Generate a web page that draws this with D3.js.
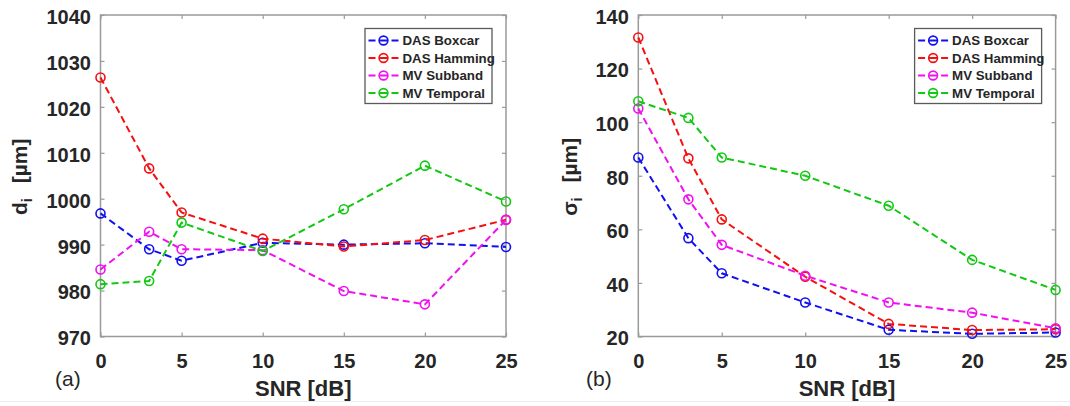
<!DOCTYPE html>
<html>
<head>
<meta charset="utf-8">
<script src="https://cdn.jsdelivr.net/npm/d3@7"></script>
<style>
  html, body { margin: 0; padding: 0; background: #fff; }
  svg { display: block; }
  text { font-family: "Liberation Sans", Arial, Helvetica, sans-serif; }
</style>
</head>
<body>
<svg id="chart" width="1070" height="406"></svg>
<script>
// ---------- data ----------
const snr = [0, 3, 5, 10, 15, 20, 25];
const seriesNames = ["DAS Boxcar", "DAS Hamming", "MV Subband", "MV Temporal"];
const seriesColors = ["#1010f0", "#f51010", "#f010f0", "#12c812"];

// panel (a): d_i [µm]
const dBoxcar   = [996.8, 989.0, 986.5, 990.4, 990.0, 990.3, 989.5];
const dHamming  = [1026.4, 1006.6, 997.0, 991.3, 989.6, 991.0, 995.4];
const dSubband  = [984.6, 992.8, 989.0, 988.8, 979.9, 977.0, 995.4];
const dTemporal = [981.4, 982.1, 994.8, 988.6, 997.7, 1007.2, 999.4];

// panel (b): sigma_i [µm]
const sBoxcar   = [86.8, 56.7, 43.6, 32.7, 22.5, 21.0, 21.5];
const sHamming  = [131.6, 86.5, 63.7, 42.3, 24.7, 22.4, 22.7];
const sSubband  = [105.1, 71.2, 54.2, 42.7, 32.7, 28.9, 23.1];
const sTemporal = [107.8, 101.6, 86.8, 80.0, 68.8, 48.6, 37.4];

const xTicks = [0, 5, 10, 15, 20, 25];
const yTicksA = [970, 980, 990, 1000, 1010, 1020, 1030, 1040];
const yTicksB = [20, 40, 60, 80, 100, 120, 140];

const svg = d3.select("#chart");
const textColor = "#262626";
const frameColor = "#9a9a9a";

// faint line near bottom of the image
svg.append("line").attr("x1", 0).attr("x2", 1070).attr("y1", 401.5).attr("y2", 401.5)
  .attr("stroke", "#ececec").attr("stroke-width", 1);

function panel(cfg) {
  const x = d3.scaleLinear().domain([0, 25]).range([cfg.left, cfg.right]);
  const y = d3.scaleLinear().domain(cfg.yDomain).range([cfg.bottom, cfg.top]);
  const g = svg.append("g");

  // frame
  g.append("rect").attr("x", cfg.left).attr("y", cfg.top)
    .attr("width", cfg.right - cfg.left).attr("height", cfg.bottom - cfg.top)
    .attr("fill", "none").attr("stroke", frameColor).attr("stroke-width", 1.5);

  // axes (inward ticks on all sides)
  const tickLen = 4;
  const bottomAx = d3.axisBottom(x).tickValues(xTicks).tickSizeInner(-tickLen).tickSizeOuter(0).tickFormat(d3.format("d"));
  const topAx = d3.axisTop(x).tickValues(xTicks).tickSizeInner(-tickLen).tickSizeOuter(0).tickFormat("");
  const leftAx = d3.axisLeft(y).tickValues(cfg.yTicks).tickSizeInner(-tickLen).tickSizeOuter(0).tickFormat(d3.format("d"));
  const rightAx = d3.axisRight(y).tickValues(cfg.yTicks).tickSizeInner(-tickLen).tickSizeOuter(0).tickFormat("");

  const gb = g.append("g").attr("transform", `translate(0,${cfg.bottom})`).call(bottomAx);
  const gt = g.append("g").attr("transform", `translate(0,${cfg.top})`).call(topAx);
  const gl = g.append("g").attr("transform", `translate(${cfg.left},0)`).call(leftAx);
  const gr = g.append("g").attr("transform", `translate(${cfg.right},0)`).call(rightAx);
  [gb, gt, gl, gr].forEach(a => {
    a.select(".domain").remove();
    a.selectAll(".tick line").attr("stroke", frameColor).attr("stroke-width", 1.2);
  });
  gb.selectAll(".tick text").attr("y", 0).attr("dy", 0)
    .attr("transform", "translate(0,31)")
    .attr("font-size", "20px").attr("font-weight", "bold").attr("fill", textColor);
  gl.selectAll(".tick text").attr("x", -9.5).attr("dy", "0.42em")
    .attr("font-size", "20px").attr("font-weight", "bold").attr("fill", textColor);

  // series
  const line = d3.line().x((d, i) => x(snr[i])).y(d => y(d));
  cfg.series.forEach((vals, k) => {
    g.append("path").datum(vals).attr("d", line)
      .attr("fill", "none").attr("stroke", seriesColors[k])
      .attr("stroke-width", 2).attr("stroke-dasharray", "7,4");
    g.selectAll(null).data(vals).enter().append("circle")
      .attr("cx", (d, i) => x(snr[i])).attr("cy", d => y(d)).attr("r", 4.5)
      .attr("fill", "none").attr("stroke", seriesColors[k]).attr("stroke-width", 1.6);
  });

  // x label
  g.append("text").attr("x", (cfg.left + cfg.right) / 2).attr("y", 396)
    .attr("text-anchor", "middle").attr("font-size", "22px").attr("font-weight", "bold")
    .attr("fill", textColor).text("SNR [dB]");

  // panel tag
  g.append("text").attr("x", cfg.tagX).attr("y", 386)
    .attr("font-size", "21px").attr("fill", textColor).text(cfg.tag);

  // y label
  const yl = g.append("text")
    .attr("transform", `translate(${cfg.yLabelX},${(cfg.top + cfg.bottom) / 2 + 1}) rotate(-90)`)
    .attr("text-anchor", "middle").attr("font-size", "21px").attr("font-weight", "bold")
    .attr("fill", textColor);
  yl.append("tspan").text(cfg.yLabelSym);
  yl.append("tspan").attr("dy", 5).attr("font-size", "14px").text("i");
  yl.append("tspan").attr("dy", -5).attr("dx", 15).text("[µm]");

  // legend
  const lx = cfg.right - 141, ly = 28.5, lw = 127, lh = 75;
  const lg = g.append("g");
  lg.append("rect").attr("x", lx).attr("y", ly).attr("width", lw).attr("height", lh)
    .attr("fill", "#fff").attr("stroke", "#5a5a5a").attr("stroke-width", 1.3);
  seriesNames.forEach((name, k) => {
    const ry = ly + 12 + k * 17.5;
    lg.append("line").attr("x1", lx + 3.5).attr("x2", lx + 33.5).attr("y1", ry).attr("y2", ry)
      .attr("stroke", seriesColors[k]).attr("stroke-width", 2).attr("stroke-dasharray", "7,4,8,4,7");
    lg.append("circle").attr("cx", lx + 18.5).attr("cy", ry).attr("r", 4.4)
      .attr("fill", "none").attr("stroke", seriesColors[k]).attr("stroke-width", 1.6);
    lg.append("text").attr("x", lx + 37.5).attr("y", ry).attr("dy", "0.36em")
      .attr("font-size", "13.3px").attr("font-weight", "bold").attr("fill", textColor).text(name);
  });
}

panel({
  left: 100.5, right: 506, top: 15, bottom: 336.5,
  yDomain: [970, 1040], yTicks: yTicksA,
  series: [dBoxcar, dHamming, dSubband, dTemporal],
  tag: "(a)", tagX: 55, yLabelX: 27, yLabelSym: "d"
});
panel({
  left: 638.3, right: 1055.6, top: 15, bottom: 336.5,
  yDomain: [20, 140], yTicks: yTicksB,
  series: [sBoxcar, sHamming, sSubband, sTemporal],
  tag: "(b)", tagX: 586, yLabelX: 577, yLabelSym: "σ"
});
</script>
</body>
</html>
